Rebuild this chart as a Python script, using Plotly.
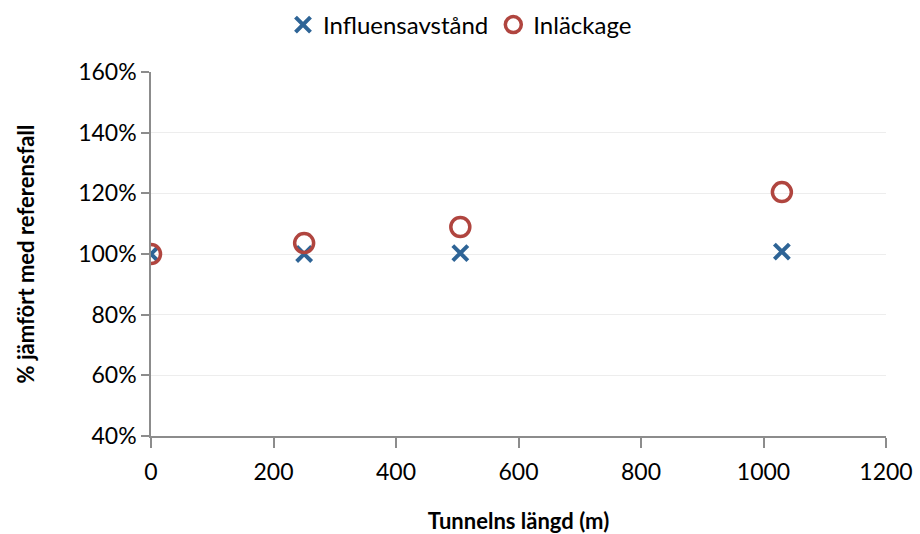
import plotly.graph_objects as go

# Tunnel length (m) and relative values (% of reference case)
tunnel_length = [0, 250, 505, 1030]
influensavstand = [100.0, 100.0, 100.3, 100.8]
inlackage = [100.0, 103.6, 108.9, 120.4]

y_ticks = [40, 60, 80, 100, 120, 140, 160]
x_ticks = [0, 200, 400, 600, 800, 1000, 1200]

FONT = "Lato"

fig = go.Figure()
fig.add_trace(go.Scatter(
    x=tunnel_length, y=influensavstand, mode="markers", name="Influensavstånd",
    marker=dict(symbol="x-thin", size=15, color="#2E6496",
                line=dict(width=4, color="#2E6496")),
))
fig.add_trace(go.Scatter(
    x=tunnel_length, y=inlackage, mode="markers", name="Inläckage",
    marker=dict(symbol="circle-open", size=19, color="#B0453F",
                line=dict(width=3.5, color="#B0453F")),
))

fig.update_layout(
    width=920, height=534,
    margin=dict(l=151, r=34, t=72, b=98, autoexpand=False),
    paper_bgcolor="white", plot_bgcolor="white",
    font=dict(family=FONT, size=23, color="black"),
    showlegend=True,
    legend=dict(orientation="h", xref="container", x=0.5, xanchor="center",
                yref="container", y=1 - 25 / 534, yanchor="middle",
                font=dict(size=24), itemwidth=30, tracegroupgap=0),
    xaxis=dict(
        range=[0, 1200], tickvals=x_ticks, ticktext=[str(v) for v in x_ticks],
        showgrid=False, zeroline=False,
        showline=True, linecolor="#8C8C8C", linewidth=1.5,
        ticks="outside", ticklen=10, tickcolor="#8C8C8C", tickwidth=1.5,
        ticklabelstandoff=5,
        title=dict(text="<b>Tunnelns längd (m)</b>", font=dict(size=22), standoff=30),
        tickfont=dict(size=23),
    ),
    yaxis=dict(
        range=[40, 160], tickvals=y_ticks, ticktext=[f"{v}%" for v in y_ticks],
        showgrid=True, gridcolor="#EDEDED", gridwidth=1, zeroline=False,
        showline=True, linecolor="#8C8C8C", linewidth=1.5,
        ticks="outside", ticklen=8, tickcolor="#8C8C8C", tickwidth=1.5,
        title=dict(text="<b>% jämfört med referensfall</b>", font=dict(size=22), standoff=37),
        tickfont=dict(size=23),
    ),
)

fig.write_html("out.html")
